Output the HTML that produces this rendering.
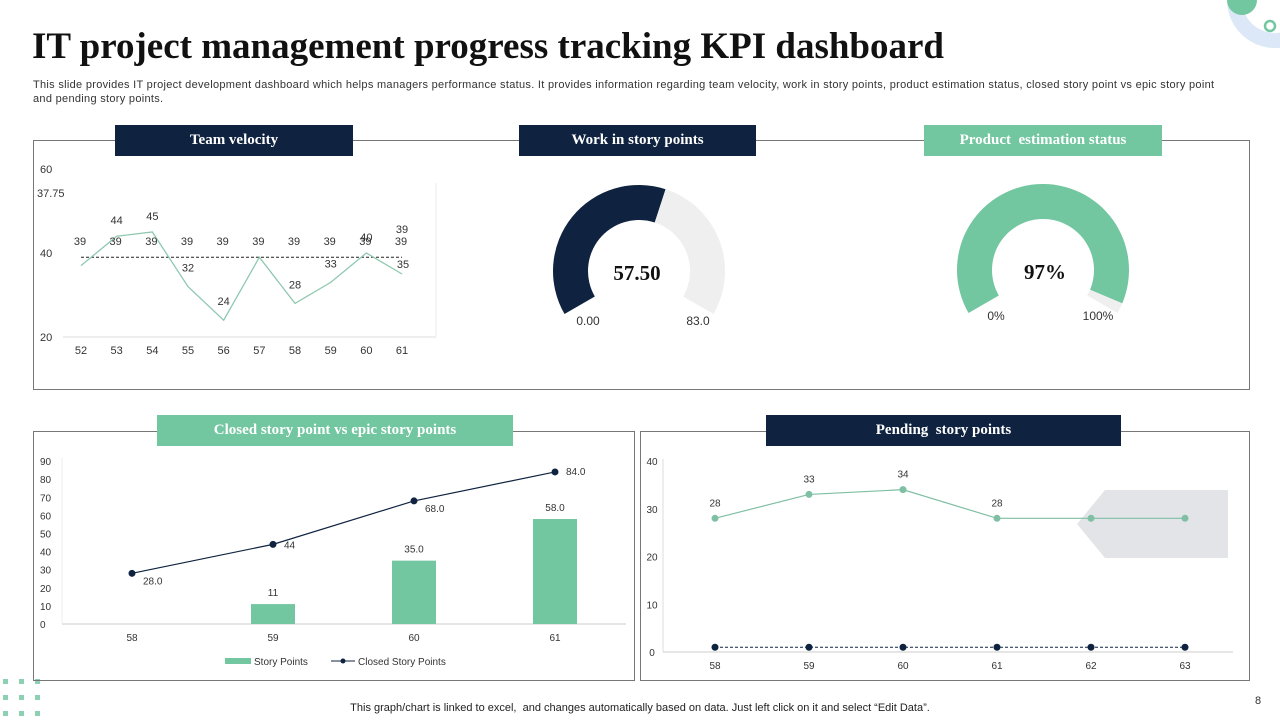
<!DOCTYPE html>
<html><head><meta charset="utf-8"><style>
body{margin:0;width:1280px;height:720px;overflow:hidden;background:#fff;font-family:"Liberation Sans",sans-serif;position:relative}
.t{position:absolute;white-space:nowrap}
.hdr{position:absolute;height:31px;line-height:31px;color:#fff;text-align:center;font-family:"Liberation Serif",serif;font-weight:bold;font-size:15px}
.box{position:absolute;border:1px solid #777}
svg text{font-family:"Liberation Sans",sans-serif}
svg text.serif{font-family:"Liberation Serif",serif}
</style></head><body>
<svg width="1280" height="720" style="position:absolute;left:0;top:0">
<circle cx="1275" cy="0" r="48" fill="#dce8f7"/>
<circle cx="1275" cy="0" r="33" fill="#fff"/>
<circle cx="1242" cy="0" r="15" fill="#72c6a0"/>
<circle cx="1270" cy="26" r="5" fill="none" stroke="#72c6a0" stroke-width="2.5"/>
<g fill="#72c6a0" opacity="0.8">
<rect x="3" y="679" width="5" height="5"/><rect x="19" y="679" width="5" height="5"/><rect x="35" y="679" width="5" height="5"/>
<rect x="3" y="695" width="5" height="5"/><rect x="19" y="695" width="5" height="5"/><rect x="35" y="695" width="5" height="5"/>
<rect x="3" y="711" width="5" height="5"/><rect x="19" y="711" width="5" height="5"/><rect x="35" y="711" width="5" height="5"/>
</g></svg>
<div class="t" style="left:32px;top:25px;font-family:'Liberation Serif',serif;font-weight:bold;font-size:37px;color:#111">IT project management progress tracking KPI dashboard</div>
<div class="t" style="left:33px;top:78px;font-size:11px;line-height:14px;color:#333;letter-spacing:0.3px">This slide provides IT project development dashboard which helps managers performance status. It provides information regarding team velocity, work in story points, product estimation status, closed story point vs epic story point<br>and pending story points.</div>

<div class="box" style="left:33px;top:140px;width:1215px;height:248px"></div>
<div class="box" style="left:33px;top:431px;width:600px;height:248px"></div>
<div class="box" style="left:640px;top:431px;width:608px;height:248px"></div>
<div class="hdr" style="left:115px;top:125px;width:238px;background:#0f2340">Team velocity</div>
<div class="hdr" style="left:519px;top:125px;width:237px;background:#0f2340">Work in story points</div>
<div class="hdr" style="left:924px;top:125px;width:238px;background:#72c6a0">Product&nbsp; estimation status</div>
<div class="hdr" style="left:157px;top:415px;width:356px;background:#72c6a0">Closed story point vs epic story points</div>
<div class="hdr" style="left:766px;top:415px;width:355px;background:#0f2340">Pending&nbsp; story points</div>

<svg id="c" width="1280" height="720" style="position:absolute;left:0;top:0"></svg>
<div class="t" style="left:0;width:1280px;text-align:center;top:702px;font-size:11px;color:#222">This graph/chart is linked to excel,&nbsp; and changes automatically based on data. Just left click on it and select “Edit Data”.</div>
<div class="t" style="left:1255px;top:695px;font-size:11px;color:#333">8</div>
<script>
// Team velocity
const velCats=[52,53,54,55,56,57,58,59,60,61];
const velVals=[37,44,45,32,24,39,28,33,40,35];
const velAvg=39;
const velTicks=[20,40,60];
// Gauges
const workValue=57.5, workScaleMax=100;
const workLabels=["57.50","0.00","83.0"];
const estValue=97, estLabels=["97%","0%","100%"];
// Closed vs epic
const closedCats=[58,59,60,61];
const storyPts=[0,11,35,58];
const storyLbl=["","11","35.0","58.0"];
const closedPts=[28,44,68,84];
const closedLbl=["28.0","44","68.0","84.0"];
const closedTicks=[0,10,20,30,40,50,60,70,80,90];
// Pending
const pendCats=[58,59,60,61,62,63];
const pendVals=[28,33,34,28,28,28];
const pendLbl=["28","33","34","28","",""];
const pendLow=[1,1,1,1,1,1];
const pendTicks=[0,10,20,30,40];

const S=document.getElementById('c'),NS='http://www.w3.org/2000/svg';
function mk(tag,a,txt){const e=document.createElementNS(NS,tag);for(const k in a)e.setAttribute(k,a[k]);if(txt!==undefined)e.textContent=txt;S.appendChild(e);return e;}
const G='#72c6a0',N='#0f2340';

// velocity
{const x=i=>81+i*35.67,y=v=>337-(v-20)*4.2;
mk('line',{x1:63,y1:337,x2:436,y2:337,stroke:'#ddd'});
mk('line',{x1:436,y1:183,x2:436,y2:337,stroke:'#eee'});
velTicks.forEach(t=>{const e=mk('text',{x:40,y:y(t)+4,'font-size':11,fill:'#333'},t);

});
velCats.forEach((c,i)=>{const e=mk('text',{x:x(i),y:354,'font-size':11,fill:'#333','text-anchor':'middle'},c);

});
const al=mk('line',{x1:x(0),y1:y(velAvg),x2:x(9),y2:y(velAvg),stroke:'#222','stroke-dasharray':'3,2'});


const p=mk('polyline',{points:velVals.map((v,i)=>x(i)+','+y(v)).join(' '),fill:'none',stroke:'#8fc8b0','stroke-width':1.3});


velCats.forEach((c,i)=>{const e=mk('text',{x:x(i)-1,y:y(velAvg)-12,'font-size':11,fill:'#333','text-anchor':'middle'},velAvg);

});
velVals.forEach((v,i)=>{if(i==0||i==5)return;let yy=v>velAvg?y(v)-12:y(v)-15;if(i==9)yy=y(v)-6;
const e=mk('text',{x:x(i)+(i==9?1:0),y:yy,'font-size':11,fill:'#333','text-anchor':'middle'},v);

});
mk('text',{x:37,y:197,'font-size':11,fill:'#333'},'37.75');
mk('text',{x:x(9),y:233,'font-size':11,fill:'#333','text-anchor':'middle'},velAvg);
}
// gauges
function arc(cx,cy,r1,r2,a0,a1,fill,name){const P=(r,a)=>[cx+r*Math.sin(a),cy-r*Math.cos(a)];
const [x0,y0]=P(r2,a0),[x1,y1]=P(r2,a1),[x2,y2]=P(r1,a1),[x3,y3]=P(r1,a0),l=(a1-a0)>Math.PI?1:0;
const e=mk('path',{d:`M${x0},${y0}A${r2},${r2} 0 ${l} 1 ${x1},${y1}L${x2},${y2}A${r1},${r1} 0 ${l} 0 ${x3},${y3}Z`,fill});

}
const A0=-120*Math.PI/180,SP=240*Math.PI/180;
{const f=workValue/workScaleMax;arc(639,271,51,86,A0,A0+SP*f,N,'work-gauge-value');arc(639,271,51,86,A0+SP*f,A0+SP,'#efefef','work-gauge-rest');
mk('text',{x:637,y:280,'font-size':21,'font-weight':'bold','text-anchor':'middle',class:'serif',fill:'#111'},workLabels[0]);
mk('text',{x:588,y:325,'font-size':12,fill:'#333','text-anchor':'middle'},workLabels[1]);
mk('text',{x:698,y:325,'font-size':12,fill:'#333','text-anchor':'middle'},workLabels[2]);}
{const f=estValue/100;arc(1043,270,51,86,A0,A0+SP*f,G,'estimation-gauge-value');arc(1043,270,51,86,A0+SP*f,A0+SP,'#efefef','estimation-gauge-rest');
mk('text',{x:1045,y:279,'font-size':21,'font-weight':'bold','text-anchor':'middle',class:'serif',fill:'#111'},estLabels[0]);
mk('text',{x:996,y:320,'font-size':12,fill:'#333','text-anchor':'middle'},estLabels[1]);
mk('text',{x:1098,y:320,'font-size':12,fill:'#333','text-anchor':'middle'},estLabels[2]);}
// closed vs epic
{const x=i=>132+i*141,y=v=>624-v*1.81;
mk('line',{x1:62,y1:624,x2:626,y2:624,stroke:'#ccc'});
mk('line',{x1:62,y1:458,x2:62,y2:624,stroke:'#eee'});
closedTicks.forEach(t=>{const e=mk('text',{x:40,y:y(t)+4,'font-size':10,fill:'#333'},t);

});
closedCats.forEach((c,i)=>{const e=mk('text',{x:x(i),y:641,'font-size':10,fill:'#333','text-anchor':'middle'},c);

});
storyPts.forEach((v,i)=>{const b=mk('rect',{x:x(i)-22,y:y(v),width:44,height:v*1.81,fill:G});


if(storyLbl[i]){const e=mk('text',{x:x(i),y:y(v)-8,'font-size':10,fill:'#333','text-anchor':'middle'},storyLbl[i]);

}});
const l=mk('polyline',{points:closedPts.map((v,i)=>x(i)+','+y(v)).join(' '),fill:'none',stroke:N,'stroke-width':1.2});


closedPts.forEach((v,i)=>{const c=mk('circle',{cx:x(i),cy:y(v),r:3.5,fill:N});


const e=mk('text',{x:x(i)+11,y:y(v)+(i==3?3:i==1?4:11),'font-size':10,fill:'#333'},closedLbl[i]);

});
mk('rect',{x:225,y:658,width:26,height:6,fill:G});
mk('text',{x:254,y:665,'font-size':10,fill:'#333'},'Story Points');
mk('line',{x1:331,y1:661,x2:355,y2:661,stroke:N});mk('circle',{cx:343,cy:661,r:2.5,fill:N});
mk('text',{x:358,y:665,'font-size':10,fill:'#333'},'Closed Story Points');}
// pending
{const x=i=>715+i*94,y=v=>652-v*4.775;
mk('polygon',{points:'1105,490 1228,490 1228,558 1105,558 1077,524',fill:'#e3e4e8'});
mk('line',{x1:663,y1:652,x2:1233,y2:652,stroke:'#ccc'});
mk('line',{x1:663,y1:459,x2:663,y2:652,stroke:'#ddd'});
pendTicks.forEach(t=>{const e=mk('text',{x:652,y:y(t)+4,'font-size':10,fill:'#333','text-anchor':'middle'},t);

});
pendCats.forEach((c,i)=>{const e=mk('text',{x:x(i),y:669,'font-size':10,fill:'#333','text-anchor':'middle'},c);

});
const l=mk('polyline',{points:pendVals.map((v,i)=>x(i)+','+y(v)).join(' '),fill:'none',stroke:'#7fbfa3','stroke-width':1.2});


const l2=mk('polyline',{points:pendLow.map((v,i)=>x(i)+','+y(v)).join(' '),fill:'none',stroke:N,'stroke-dasharray':'3,2'});


pendVals.forEach((v,i)=>{const c=mk('circle',{cx:x(i),cy:y(v),r:3.5,fill:'#7fbfa3'});


if(pendLbl[i]){const e=mk('text',{x:x(i),y:y(v)-12,'font-size':10,fill:'#333','text-anchor':'middle'},pendLbl[i]);

}});
pendLow.forEach((v,i)=>{const c=mk('circle',{cx:x(i),cy:y(v),r:3.5,fill:N});

});}
</script>
</body></html>
